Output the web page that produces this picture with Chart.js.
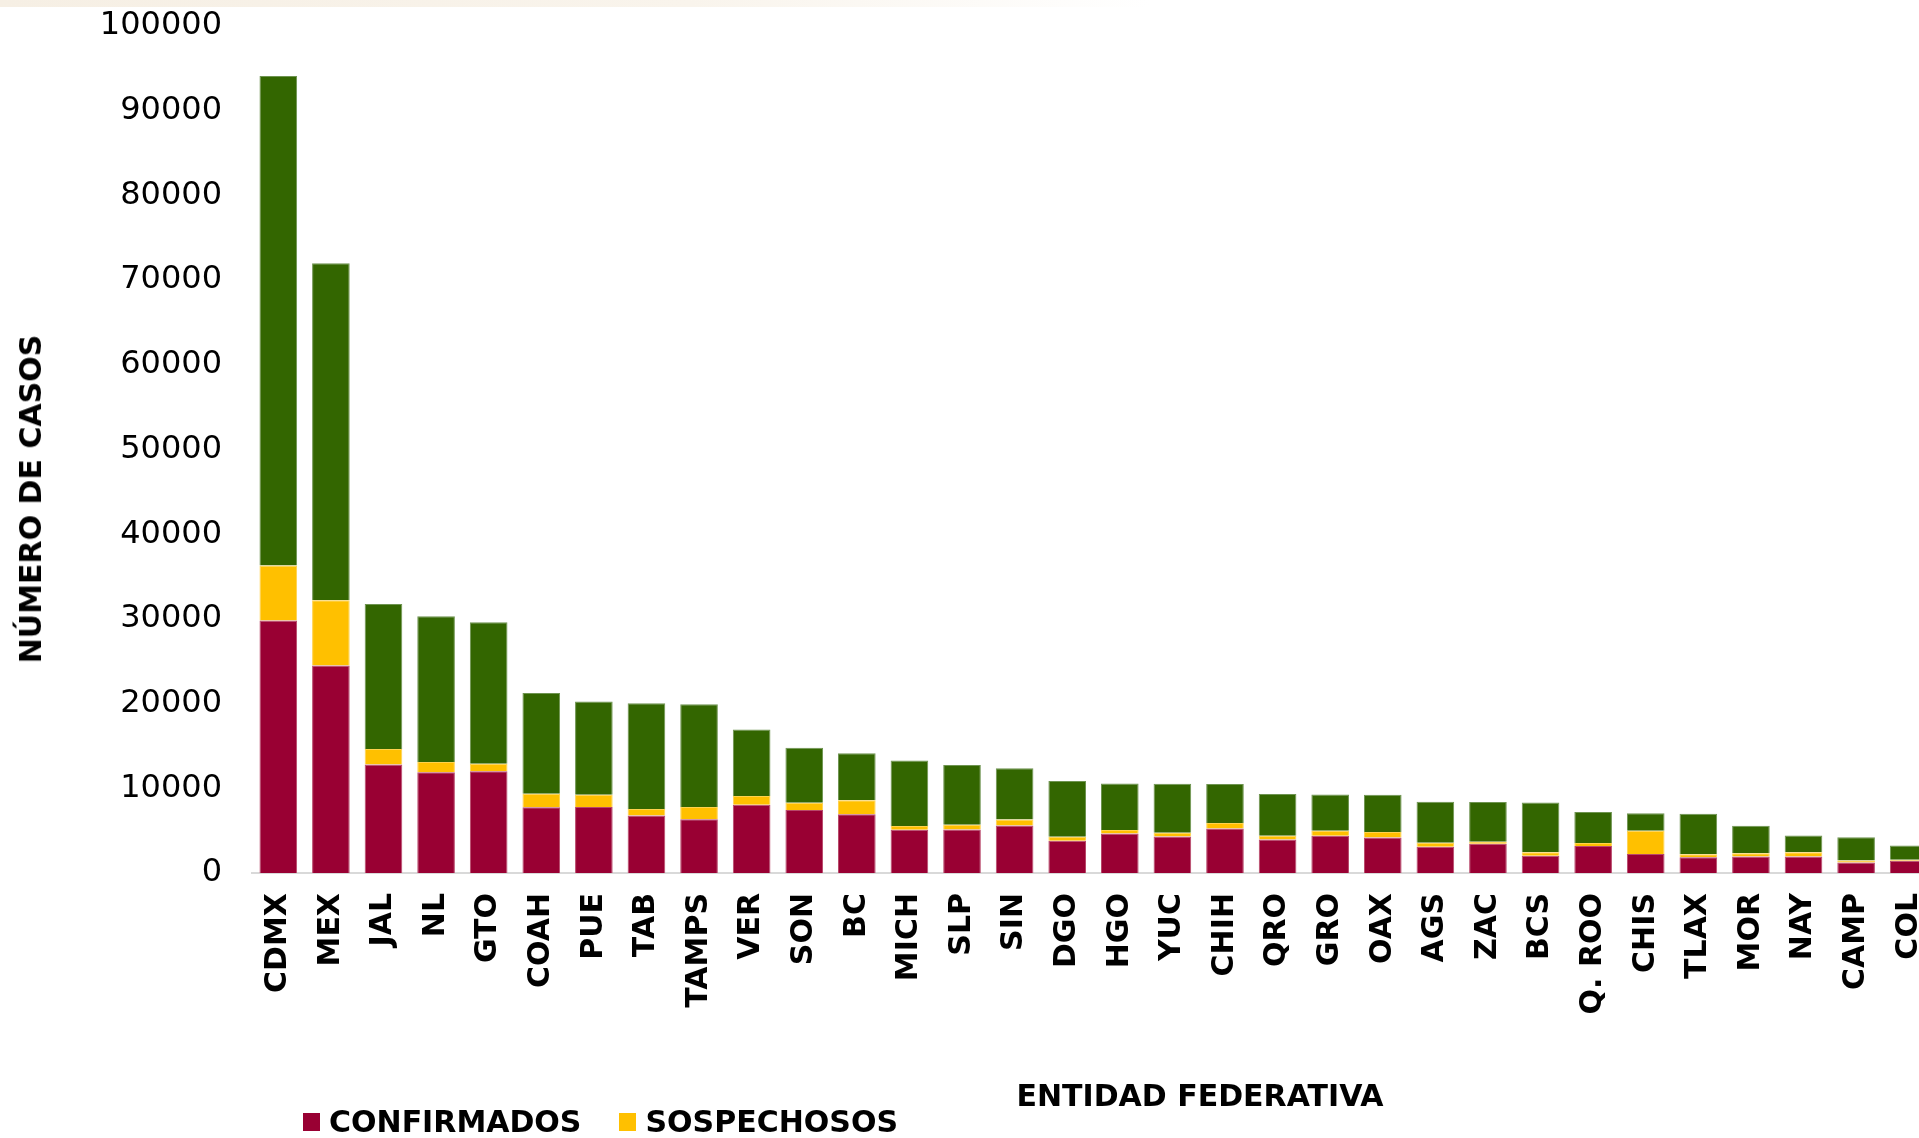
<!DOCTYPE html>
<html>
<head>
<meta charset="utf-8">
<script src="https://cdn.jsdelivr.net/npm/chart.js@4.4.0/dist/chart.umd.min.js"></script>
<style>
  html, body { margin: 0; padding: 0; background: #fff; overflow: hidden; width: 1919px; height: 1138px; }
  #band { position: absolute; left: 0; top: 0; width: 1150px; height: 7px; background: linear-gradient(90deg, #f6efe4 0%, #f9f4ec 60%, rgba(255,255,255,0) 100%); }
  #wrap { position: absolute; left: 0; top: 0; width: 1935px; height: 1138px; }
  .txt { position: absolute; font-family: "DejaVu Sans"; font-weight: bold; font-size: 30px; line-height: 30px; color: #000; white-space: nowrap; }
  #ytitle { left: 31px; top: 499px; transform: translate(-50%, -50%) rotate(-90deg); }
  #xtitle { left: 1200px; top: 1096px; transform: translate(-50%, -50%); }
  #legend { position: absolute; left: 303px; top: 1122px; transform: translateY(-50%); display: flex; align-items: center; }
  .item { display: flex; align-items: center; margin-right: 38px; font-family: "DejaVu Sans"; font-weight: bold; font-size: 30px; line-height: 30px; }
  .box { width: 17px; height: 18px; margin-right: 9px; }
</style>
</head>
<body>
<div id="band"></div>
<div id="wrap"><canvas id="myChart" width="1935" height="1138"></canvas></div>
<div id="ytitle" class="txt">NÚMERO DE CASOS</div>
<div id="xtitle" class="txt">ENTIDAD FEDERATIVA</div>
<div id="legend"></div>
<script>
// setup
const labels = ['CDMX', 'MEX', 'JAL', 'NL', 'GTO', 'COAH', 'PUE', 'TAB', 'TAMPS', 'VER', 'SON', 'BC',
    'MICH', 'SLP', 'SIN', 'DGO', 'HGO', 'YUC', 'CHIH', 'QRO', 'GRO', 'OAX', 'AGS', 'ZAC', 'BCS',
    'Q. ROO', 'CHIS', 'TLAX', 'MOR', 'NAY', 'CAMP', 'COL'];
const confirmados = [29800, 24500, 12800, 11900, 12000, 7750, 7800, 6800, 6350, 8050, 7450, 6950,
    5100, 5150, 5600, 3800, 4650, 4300, 5250, 3950, 4400, 4200, 3100, 3450, 2050,
    3200, 2250, 1850, 1950, 1950, 1250, 1450];
const sospechosos = [6500, 7700, 1850, 1200, 900, 1600, 1450, 750, 1430, 1030, 850, 1650,
    440, 550, 730, 480, 420, 450, 650, 450, 590, 630, 480, 250, 390,
    340, 2740, 350, 370, 490, 240, 120];
const negativos = [57800, 39800, 17100, 17200, 16700, 11900, 11000, 12500, 12150, 7860, 6480, 5550,
    7750, 7040, 6050, 6570, 5500, 5780, 4600, 4920, 4290, 4410, 4830, 4670, 5890,
    3650, 2050, 4800, 3260, 2000, 2720, 1690];
const yTicks = [0, 10000, 20000, 30000, 40000, 50000, 60000, 70000, 80000, 90000, 100000];

const datasets = [{
    label: 'CONFIRMADOS',
    data: confirmados,
    backgroundColor: '#990033',
    borderColor: '#b8476a',
    inLegend: true,
}, {
    label: 'SOSPECHOSOS',
    data: sospechosos,
    backgroundColor: '#ffc000',
    borderColor: '#ffd24d',
    inLegend: true,
}, {
    label: 'NEGATIVOS',
    data: negativos,
    backgroundColor: '#336600',
    borderColor: '#6e9450',
    inLegend: false,
}];
datasets.forEach(d => { d.borderWidth = 1; d.barPercentage = 0.9; d.categoryPercentage = 0.795; });

// legend (only the two first series, like the original)
const legend = document.getElementById('legend');
datasets.filter(d => d.inLegend).forEach(d => {
    const it = document.createElement('div');
    it.className = 'item';
    it.innerHTML = '<span class="box" style="background:' + d.backgroundColor + '"></span>' + d.label;
    legend.appendChild(it);
});

// config
const config = {
    type: 'bar',
    data: { labels, datasets },
    options: {
        responsive: false,
        animation: false,
        devicePixelRatio: 1,
        layout: { padding: { top: 26, right: 0, left: 0, bottom: 0 } },
        plugins: { legend: { display: false }, tooltip: { enabled: false } },
        scales: {
            x: {
                stacked: true,
                grid: { display: false, drawTicks: false },
                border: { color: '#d9d9d9', width: 2 },
                ticks: {
                    autoSkip: false, maxRotation: 90, minRotation: 90, padding: 20, color: '#000',
                    font: { family: 'DejaVu Sans', weight: 'bold', size: 30 }
                },
                afterFit: s => { s.height = 265; s.paddingLeft = 0; s.paddingRight = 0; }
            },
            y: {
                stacked: true,
                min: 0,
                max: 100000,
                grid: { display: false, drawTicks: false },
                border: { display: false },
                afterBuildTicks: s => { s.ticks = yTicks.map(v => ({ value: v })); },
                ticks: {
                    padding: 30, color: '#000',
                    font: { family: 'DejaVu Sans', size: 32 },
                    callback: v => String(v)
                },
                afterFit: s => { s.width = 252; s.paddingTop = 0; s.paddingBottom = 0; }
            }
        }
    }
};

// and here is the chart
let myChart = new Chart('myChart', config);
</script>
</body>
</html>
